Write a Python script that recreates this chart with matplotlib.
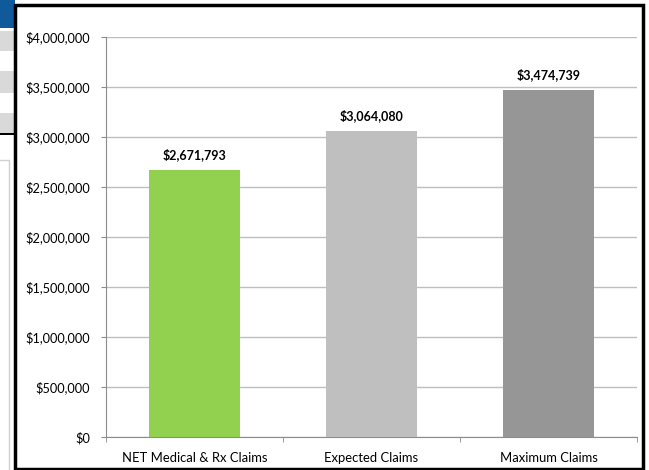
import matplotlib.pyplot as plt
from matplotlib.patches import Rectangle
from matplotlib.ticker import FuncFormatter

plt.rcParams['font.family'] = ['Lato', 'DejaVu Sans']

categories = ["NET Medical & Rx Claims", "Expected Claims", "Maximum Claims"]
values = [2671793, 3064080, 3474739]
colors = ["#92D050", "#BFBFBF", "#969696"]

fig = plt.figure(figsize=(6.49, 4.70), dpi=100)

# bits of the spreadsheet peeking in on the left
W, H = 649.0, 470.0
def px(x0, y0, x1, y1, **kw):
    fig.patches.append(Rectangle((x0 / W, 1 - y1 / H), (x1 - x0) / W, (y1 - y0) / H,
                                 transform=fig.transFigure, figure=fig, **kw))
px(0, 0, 15, 28, color="#105A9C", lw=0)
for y0, y1 in [(31, 51), (71, 93), (113, 133)]:
    px(0, y0, 15, y1, color="#D9D9D9", lw=0)
px(0, 133, 15, 135, color="black", lw=0)
px(-5, 160, 9, 480, fill=False, edgecolor="#D0D0D0", lw=1)

# chart frame
px(15, 5, 643, 469, fill=False, edgecolor="black", lw=2.5)

ax = fig.add_axes([106 / W, 1 - 437 / H, (637 - 106) / W, 400 / H])
x = range(len(categories))
bars = ax.bar(x, values, width=0.51, color=colors, zorder=3)
for b, v in zip(bars, values):
    ax.annotate("${:,.0f}".format(v), (b.get_x() + b.get_width() / 2, v),
                xytext=(0, 6), textcoords="offset points", ha="center", va="bottom",
                fontsize=9, fontweight="bold")

ax.set_xlim(-0.5, 2.5)
ax.set_ylim(0, 4000000)
ax.set_yticks(range(0, 4000001, 500000))
ax.yaxis.set_major_formatter(FuncFormatter(lambda v, p: "${:,.0f}".format(v)))
ax.grid(axis="y", color="#BEBEBE", lw=1, zorder=0)
ax.set_xticks(list(x))
ax.set_xticklabels(categories)
ax.set_xticks([-0.5, 0.5, 1.5, 2.5], minor=True)
ax.tick_params(axis="x", which="major", length=0, pad=11, labelsize=9.4)
ax.tick_params(axis="x", which="minor", length=3.5, color="#8C8C8C")
ax.tick_params(axis="y", length=3.5, color="#8C8C8C", labelsize=9.2, pad=8)
for s in ["top", "right"]:
    ax.spines[s].set_visible(False)
for s in ["left", "bottom"]:
    ax.spines[s].set_color("#8C8C8C")

fig.savefig("out.png", dpi=100)
